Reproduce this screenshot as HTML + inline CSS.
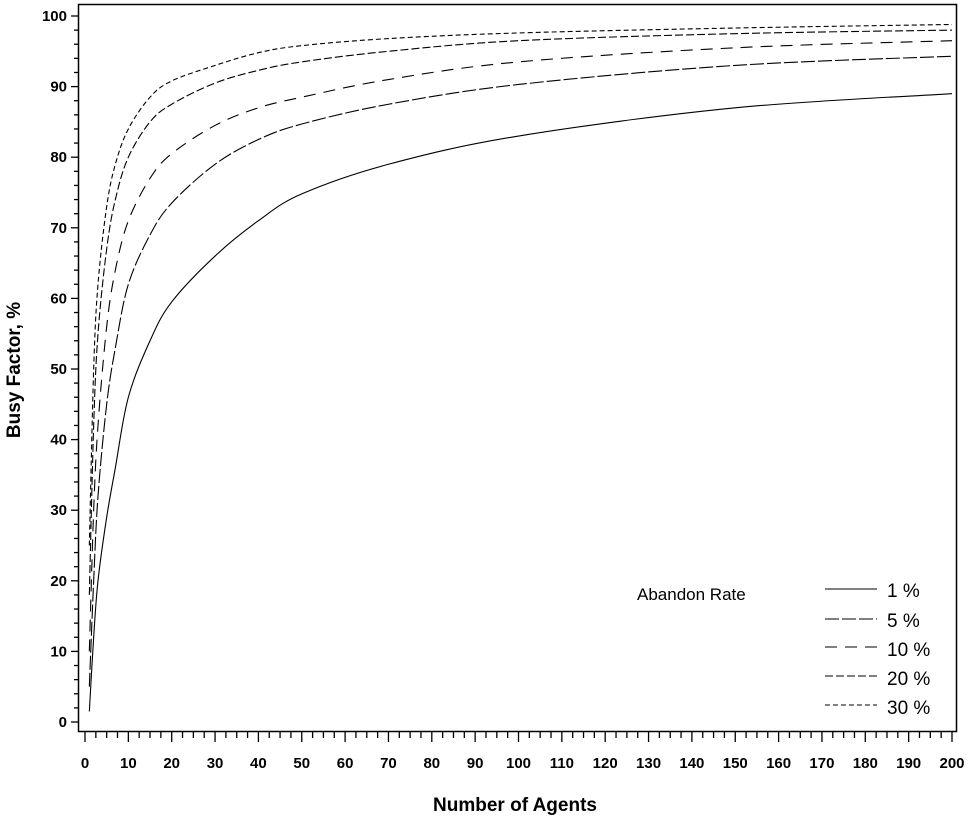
<!DOCTYPE html>
<html><head><meta charset="utf-8"><style>
html,body{margin:0;padding:0;background:#fff;}
svg text{font-family:"Liberation Sans",Arial,sans-serif;}
</style></head><body>
<svg id="s" width="975" height="824" viewBox="0 0 975 824" xmlns="http://www.w3.org/2000/svg">
<rect x="0" y="0" width="975" height="824" fill="#fff"/>
<rect x="78.5" y="4.5" width="878" height="727" fill="none" stroke="#000" stroke-width="1.5"/>
<g id="ticks" stroke="#000" stroke-width="1.3"></g>
<g id="labels" font-size="15" font-weight="bold" fill="#000"></g>
<g id="curves" fill="none" stroke="#000" stroke-width="1.1"></g>
<text x="515" y="811" font-size="19" font-weight="bold" text-anchor="middle">Number of Agents</text>
<text transform="translate(20,370) rotate(-90)" font-size="19" font-weight="bold" text-anchor="middle">Busy Factor, %</text>
<text x="637" y="600" font-size="17">Abandon Rate</text>
<g fill="none" stroke="#000" stroke-width="1.1">
<line x1="825" y1="589" x2="877" y2="589"/>
<line x1="825" y1="619" x2="877" y2="619" stroke-dasharray="14,3"/>
<line x1="825" y1="647" x2="877" y2="647" stroke-dasharray="12,8"/>
<line x1="825" y1="676" x2="877" y2="676" stroke-dasharray="8,3"/>
<line x1="825" y1="705" x2="877" y2="705" stroke-dasharray="5,3"/>
</g>
<g font-size="19" fill="#000">
<text x="887" y="597">1 %</text>
<text x="887" y="627">5 %</text>
<text x="887" y="656">10 %</text>
<text x="887" y="685">20 %</text>
<text x="887" y="714">30 %</text>
</g>
</svg>
<script>
var NS="http://www.w3.org/2000/svg";
function X(n){return 85+4.335*n;}
function Y(v){return 722-7.06*v;}
var t=document.getElementById('ticks'),L=document.getElementById('labels');
function el(tag,a,p){var e=document.createElementNS(NS,tag);for(var k in a)e.setAttribute(k,a[k]);p.appendChild(e);return e;}
for(var v=0;v<=100;v+=2){var y=Y(v),maj=v%10==0;el('line',{x1:78,y1:y,x2:maj?71:74,y2:y},t);
 if(maj){var tx=el('text',{x:67,y:y+5,'text-anchor':'end'},L);tx.textContent=v;}}
for(var n=0;n<=200;n+=2.5){var x=X(n),maj=n%10==0;el('line',{x1:x,y1:732,x2:x,y2:maj?742:738},t);
 if(maj){var tx=el('text',{x:x,y:768,'text-anchor':'middle'},L);tx.textContent=n;}}
var ns=[1,2,3,5,7,10,15,20,30,40,50,70,100,150,200];
var D=[
[[1.5,12,20,29,36,46,54,59.5,66,71,74.8,79,83,87,89],"none"],
[[5,20,32,45,53,62,69,73.5,79,82.5,84.7,87.5,90.3,93,94.3],"14,3"],
[[10,30,42,56,64,71,77,80.5,84.5,87,88.5,91,93.5,95.5,96.5],"12,8"],
[[18,42,55,67,74,80,85,87.5,90.5,92.3,93.5,95,96.5,97.5,98],"8,3"],
[[25,50,62,73,79,84,88.5,90.8,93,94.8,95.8,96.8,97.6,98.3,98.8],"5,3"]];
var C=document.getElementById('curves');
D.forEach(function(d){
 var pts=ns.map(function(n,i){return [X(n),Y(d[0][i])];});
 var s="M"+pts[0][0]+","+pts[0][1];
 for(var i=0;i<pts.length-1;i++){
  var p0=pts[i-1]||pts[i],p1=pts[i],p2=pts[i+1],p3=pts[i+2]||p2;
  var c1=[p1[0]+(p2[0]-p0[0])/6,p1[1]+(p2[1]-p0[1])/6],c2=[p2[0]-(p3[0]-p1[0])/6,p2[1]-(p3[1]-p1[1])/6];
  s+=" C"+c1+" "+c2+" "+p2;}
 var a={d:s};if(d[1]!="none")a['stroke-dasharray']=d[1];el('path',a,C);
});
</script>
</body></html>
